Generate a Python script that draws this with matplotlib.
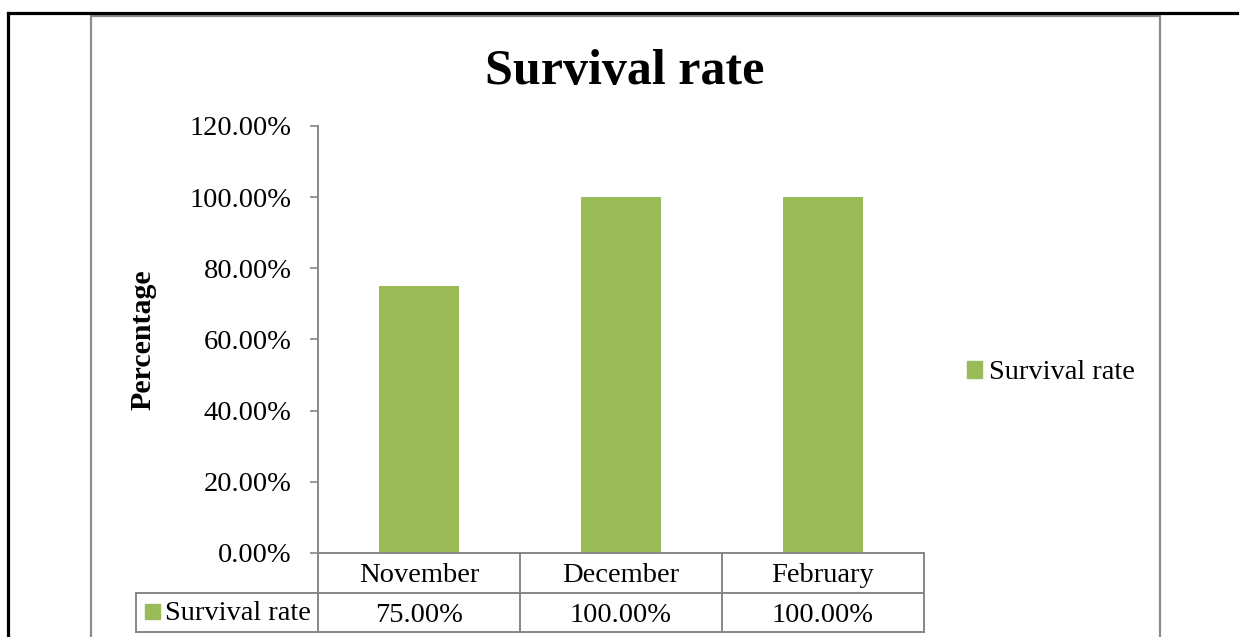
import matplotlib
matplotlib.use("Agg")
import matplotlib.pyplot as plt
from matplotlib.lines import Line2D
from matplotlib.patches import Rectangle, Patch
from matplotlib.ticker import FuncFormatter, MultipleLocator
import matplotlib.transforms as mtransforms

plt.rcParams['font.family'] = ['Liberation Serif', 'DejaVu Serif']

# Data
months = ["November", "December", "February"]
survival = [0.75, 1.00, 1.00]
series_name = "Survival rate"

W, H = 1239, 637
BAR = "#9BBB59"
GRID = "#868686"
FS = 20.5

fig = plt.figure(figsize=(W / 100, H / 100), dpi=100)


def fx(px):
    return px / W


def fy(py):
    return 1 - py / H


# Page frame (black) and chart area frame (gray)
fig.add_artist(Line2D([fx(8), fx(W)], [fy(12.5), fy(12.5)], color="black", lw=2.3,
                      transform=fig.transFigure))
fig.add_artist(Line2D([fx(8), fx(8)], [fy(12.5), fy(H)], color="black", lw=2.3,
                      transform=fig.transFigure))
fig.add_artist(Rectangle((fx(91), fy(H + 20)), fx(1160 - 91), fy(16) - fy(H + 20),
                         fill=False, edgecolor="#8c8c8c", lw=1.6,
                         transform=fig.transFigure))

# Plot area
left, right, top, bottom = 318, 924, 126, 553
ax = fig.add_axes([fx(left), fy(bottom), fx(right - left), fy(top) - fy(bottom)])
x = list(range(len(months)))
ax.bar(x, survival, width=0.4, color=BAR, zorder=2)
ax.set_xlim(-0.5, len(months) - 0.5)
ax.set_ylim(0, 1.2)
ax.yaxis.set_major_locator(MultipleLocator(0.2))
ax.yaxis.set_major_formatter(FuncFormatter(lambda v, _: f"{v * 100:.2f}%"))
ax.tick_params(axis="y", direction="out", length=6, width=1.2, color=GRID,
               pad=13, labelsize=FS)
ax.set_xticks([])
for s in ("top", "right"):
    ax.spines[s].set_visible(False)
for s in ("left", "bottom"):
    ax.spines[s].set_color(GRID)
    ax.spines[s].set_linewidth(1.4)
ax.set_ylabel("Percentage", fontsize=21.5, fontweight="bold")
ax.yaxis.set_label_coords((156 - left) / (right - left), 0.5)

# Data table below the axis
row_h = 39.5 / (bottom - top)
trans = mtransforms.blended_transform_factory(ax.transData, ax.transAxes)
tab_left_px = 136
tab_left = -0.5 + (tab_left_px - left) / ((right - left) / len(months))
lk = dict(color=GRID, lw=1.4, transform=trans, clip_on=False)
ax.add_artist(Line2D([-0.5, -0.5], [0, -2 * row_h], **lk))
for b in [0.5, 1.5, 2.5]:
    ax.add_artist(Line2D([b, b], [0, -2 * row_h], **lk))
ax.add_artist(Line2D([tab_left, 2.5], [-row_h, -row_h], **lk))
ax.add_artist(Line2D([tab_left, 2.5], [-2 * row_h, -2 * row_h], **lk))
ax.add_artist(Line2D([tab_left, tab_left], [-row_h, -2 * row_h], **lk))

shift = 3 / (bottom - top)
for xi, (m, v) in enumerate(zip(months, survival)):
    ax.text(xi, -0.5 * row_h - shift, m, transform=trans, ha="center", va="center",
            fontsize=FS)
    ax.text(xi, -1.5 * row_h - shift, f"{v * 100:.2f}%", transform=trans, ha="center",
            va="center", fontsize=FS)

# Legend key inside the table
key_x, key_y = 145, 604
fig.add_artist(Rectangle((fx(key_x), fy(key_y + 15)), fx(15), fy(key_y) - fy(key_y + 15),
                         color=BAR, transform=fig.transFigure))
fig.text(fx(165), fy(614), series_name, ha="left", va="center", fontsize=FS)

# Title
fig.text(fx(625), fy(72), "Survival rate", ha="center", va="center",
         fontsize=36, fontweight="bold")

# Legend on the right
fig.legend(handles=[Patch(color=BAR, label=series_name)], loc="center left",
           bbox_to_anchor=(fx(967), fy(373)), frameon=False, fontsize=FS,
           handlelength=0.53, handleheight=0.53, handletextpad=0.25,
           borderpad=0, borderaxespad=0)

fig.savefig("out.png", dpi=100)
